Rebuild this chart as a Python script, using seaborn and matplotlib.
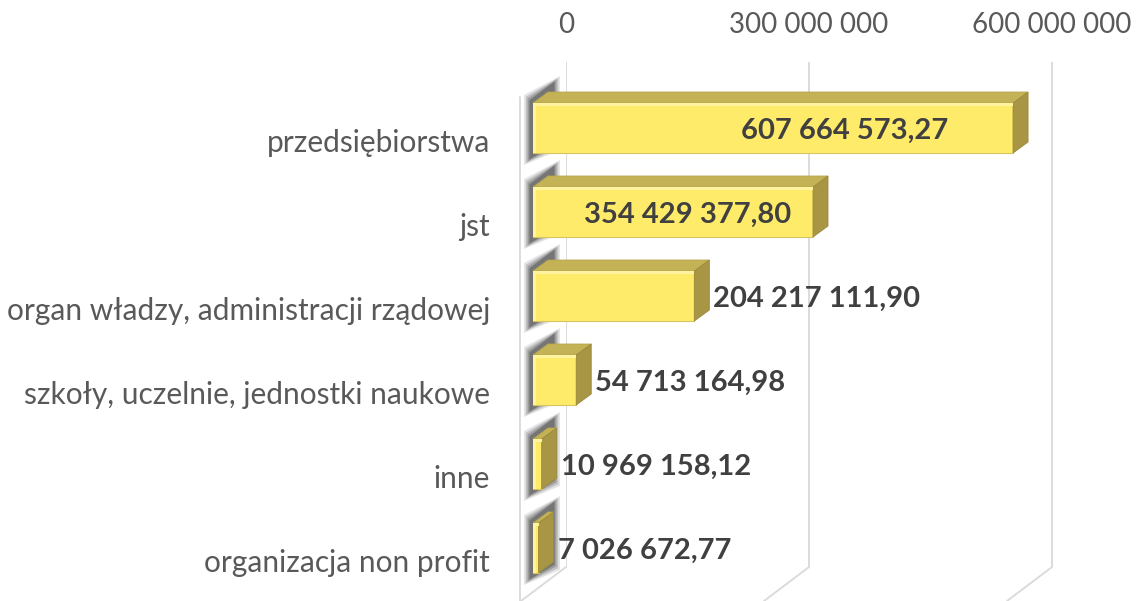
import numpy as np
import pandas as pd
import matplotlib
matplotlib.use("Agg")
import matplotlib.pyplot as plt
import matplotlib.transforms as mtransforms
from matplotlib.patches import Polygon
from matplotlib.lines import Line2D
import seaborn as sns

# data
categories = [
    "przedsiębiorstwa",
    "jst",
    "organ władzy, administracji rządowej",
    "szkoły, uczelnie, jednostki naukowe",
    "inne",
    "organizacja non profit",
]
values = [607664573.27, 354429377.80, 204217111.90, 54713164.98, 10969158.12, 7026672.77]
x_ticks = [0, 300000000, 600000000]


def pl_format(v, decimals=2):
    # polish style: space as thousands separator, comma as decimal mark
    s = f"{v:,.{decimals}f}"
    return s.replace(",", " ").replace(".", ",")


sns.set_theme(style="white")
plt.rcParams["font.family"] = ["Lato", "DejaVu Sans"]

W, H, DPI = 1137, 601, 100
fig = plt.figure(figsize=(W / DPI, H / DPI), dpi=DPI)
fig.patch.set_facecolor("white")


def px_rect(left, top, width, height):
    return [left / W, (H - top - height) / H, width / W, height / H]


xmax = 7e8
# back wall: gridlines + top tick labels
ax_back = fig.add_axes(px_rect(566, 62, 567, 505))
# front plane: bars + labels
ax_front = fig.add_axes(px_rect(533, 86, 553, 504))
ax_back.set_zorder(0)
ax_front.set_zorder(1)
ax_front.patch.set_visible(False)

ax_back.set_xlim(0, xmax)
ax_back.set_ylim(0, 1)
ax_back.set_xticks(x_ticks)
ax_back.set_xticklabels([pl_format(t, 0) for t in x_ticks])
ax_back.xaxis.tick_top()
ax_back.tick_params(axis="x", length=0, pad=17, labelsize=20, labelcolor="#595959")
ax_back.set_yticks([])
for s in ax_back.spines.values():
    s.set_visible(False)
for t in x_ticks:
    ax_back.axvline(t, color="#d9d9d9", lw=1.3)

ident = mtransforms.IdentityTransform()

# floor lines running toward the viewer
for t in x_ticks:
    px, py = ax_back.transData.transform((t, 0))
    fig.add_artist(Line2D([px, px - 45], [py, py - 34], color="#d9d9d9", lw=1.3,
                          transform=ident))

# left wall edge
fl = ax_front.transAxes.transform((0, 1))
fig.add_artist(Line2D([fl[0] - 13, fl[0] - 13], [H - 97, 0], color="#d9d9d9", lw=1.3,
                      transform=ident))

df = pd.DataFrame({"kategoria": categories, "wartosc": values})
sns.barplot(data=df, y="kategoria", x="wartosc", orient="h", color="#FFEB6A",
            saturation=1, width=0.595, edgecolor="#D6C660", linewidth=0.8,
            ax=ax_front)
ax_front.set_xlim(0, xmax)
ax_front.set_ylim(len(categories) - 0.5, -0.5)
ax_front.set_xticks([])
ax_front.set_yticks([])
ax_front.set_xlabel("")
ax_front.set_ylabel("")
for s in ax_front.spines.values():
    s.set_visible(False)

# fake 3D: top face, side face and a soft shadow on the left wall
dx, dy = 15, 11
for patch in ax_front.patches:
    b = patch.get_bbox()
    (x0, y0), (x1, y1) = ax_front.transData.transform([(b.x0, b.y0), (b.x1, b.y1)])
    yt, yb = max(y0, y1), min(y0, y1)
    for k, a in enumerate([0.12, 0.18, 0.24, 0.32]):
        g = 6 - k * 1.8
        shadow = [(x0 - 3 - g, yb - 6 - g), (x0 - 3 - g, yt + 2 + g),
                  (x0 + dx + 6 + g, yt + dy + 10 + g), (x0 + dx + 6 + g, yb + dy - 2 - g)]
        ax_front.add_patch(Polygon(shadow, closed=True, facecolor="#262626", alpha=a,
                                   edgecolor="none", transform=ident, clip_on=False,
                                   zorder=0.5))
    top = [(x0, yt), (x1, yt), (x1 + dx, yt + dy), (x0 + dx, yt + dy)]
    side = [(x1, yb), (x1, yt), (x1 + dx, yt + dy), (x1 + dx, yb + dy)]
    ax_front.add_patch(Polygon(top, closed=True, facecolor="#C4B356", edgecolor="#B5A54B",
                               lw=0.6, transform=ident, clip_on=False, zorder=2))
    ax_front.add_patch(Polygon(side, closed=True, facecolor="#A89645", edgecolor="#9A8A3D",
                               lw=0.6, transform=ident, clip_on=False, zorder=2))
    # light rim along the top and left of the front face
    shine = [(x0, yt - 3), (x1, yt - 3), (x1, yt), (x0, yt)]
    ax_front.add_patch(Polygon(shine, closed=True, facecolor="#FFF3A0", edgecolor="none",
                               transform=ident, clip_on=False, zorder=2))
    rim = [(x0, yb), (x0 + min(3, x1 - x0), yb), (x0 + min(3, x1 - x0), yt), (x0, yt)]
    ax_front.add_patch(Polygon(rim, closed=True, facecolor="#FFF3A0", edgecolor="none",
                               transform=ident, clip_on=False, zorder=2))
    patch.set_zorder(1.5)

# category labels (sit a little below bar centres, like the Excel 3D layout)
lab_tr = mtransforms.blended_transform_factory(ax_front.transAxes, ax_front.transData) + \
    mtransforms.ScaledTranslation(0, -0.15, fig.dpi_scale_trans)
for i, cat in enumerate(categories):
    ax_front.text(-43 / 553, i, cat, transform=lab_tr, ha="right", va="center",
                  fontsize=21.5, color="#595959", clip_on=False)

# value labels
for i, v in enumerate(values):
    txt = pl_format(v)
    if v > 3e8:
        ax_front.text(0.782 * v - 0.81e8, i, txt, ha="center", va="center", fontsize=21,
                      fontweight="bold", color="#404040", zorder=5,
                      transform=ax_front.transData + mtransforms.ScaledTranslation(
                          0, -0.03, fig.dpi_scale_trans))
    else:
        ax_front.annotate(txt, (v, i), xytext=(13.7, -2), textcoords="offset points",
                          ha="left", va="center", fontsize=21, fontweight="bold",
                          color="#404040", zorder=5, annotation_clip=False)

fig.savefig("out.png", dpi=DPI)
